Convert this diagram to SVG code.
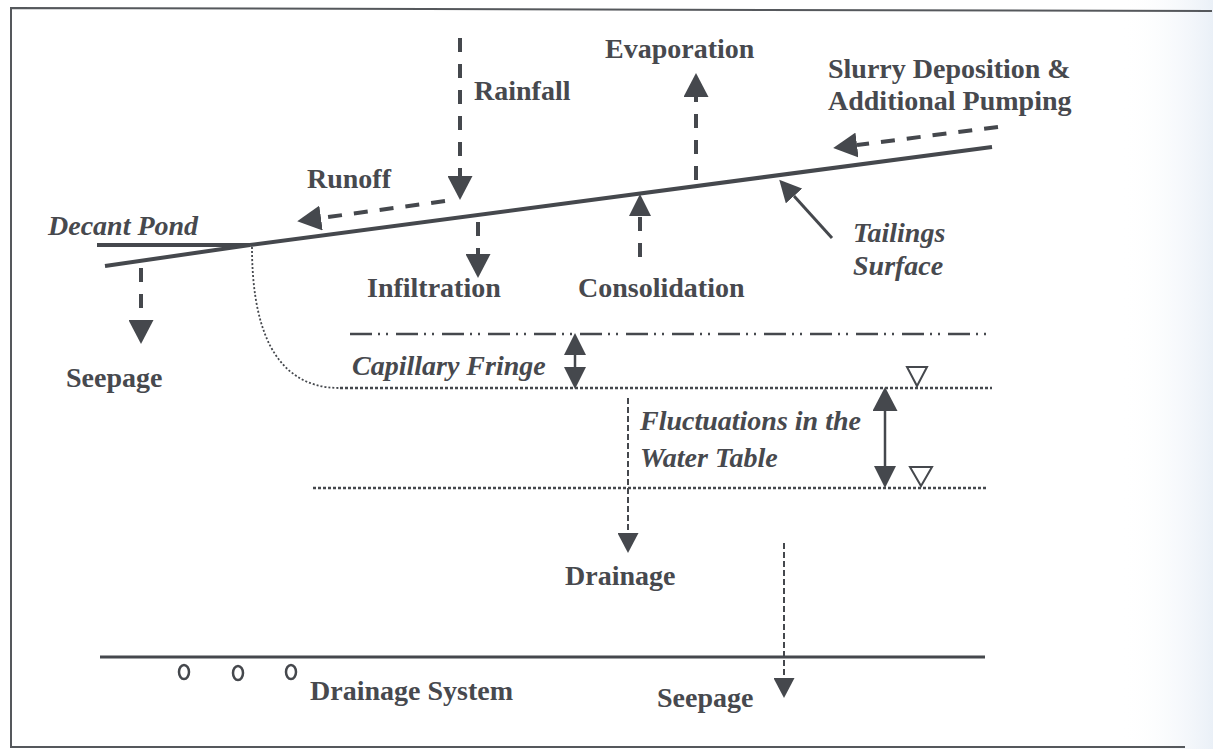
<svg xmlns="http://www.w3.org/2000/svg" width="1213" height="749" viewBox="0 0 1213 749">
  <style>
    .lbl { font-family: "Liberation Serif", "Times New Roman", serif; font-weight: bold; font-size: 28px; fill: #47494e; }
    .it { font-style: italic; }
    .solid { stroke: #45484d; fill: none; }
    .dash { stroke: #45484d; stroke-width: 4; stroke-dasharray: 14 12; fill: none; }
    .thin { stroke: #45484d; stroke-width: 2; stroke-dasharray: 6 3; fill: none; }
    .dot { stroke: #45484d; stroke-width: 2.5; stroke-dasharray: 3 2; fill: none; }
    .dd { stroke: #45484d; stroke-width: 2.5; stroke-dasharray: 22 6 2 6 2 8; fill: none; }
    .tri { stroke: #45484d; stroke-width: 2; fill: none; }
  </style>
  <defs>
    <linearGradient id="edge" x1="0" y1="0" x2="1" y2="0">
      <stop offset="0" stop-color="#ffffff" stop-opacity="0"/>
      <stop offset="1" stop-color="#eaf0f7"/>
    </linearGradient>
    <marker id="big" viewBox="0 0 24 25" markerWidth="24" markerHeight="25" markerUnits="userSpaceOnUse" refX="0" refY="12.5" orient="auto-start-reverse">
      <path d="M0,0 L24,12.5 L0,25 z" fill="#45484d"/>
    </marker>
    <marker id="mid" viewBox="0 0 22 22" markerWidth="22" markerHeight="22" markerUnits="userSpaceOnUse" refX="0" refY="11" orient="auto-start-reverse">
      <path d="M0,0 L22,11 L0,22 z" fill="#45484d"/>
    </marker>
    <marker id="sm" viewBox="0 0 20 21" markerWidth="20" markerHeight="21" markerUnits="userSpaceOnUse" refX="0" refY="10.5" orient="auto-start-reverse">
      <path d="M0,0 L20,10.5 L0,21 z" fill="#45484d"/>
    </marker>
  </defs>

  <rect x="0" y="0" width="1213" height="749" fill="#ffffff"/>
  <rect x="1120" y="0" width="93" height="749" fill="url(#edge)"/>

  <g id="frame">
    <path d="M1212,11 L11,8 L11,747 L1185,747" fill="none" stroke="#55585c" stroke-width="2"/>
  </g>

  <g id="surfaces">
    <line class="solid" stroke-width="4" x1="250" y1="245" x2="992" y2="147"/>
    <line class="solid" stroke-width="4" x1="97" y1="245" x2="250" y2="245"/>
    <line class="solid" stroke-width="4" x1="105" y1="266" x2="250" y2="245"/>
    <path d="M252,247 C252,320 270,388 340,388" fill="none" stroke="#45484d" stroke-width="1.8" stroke-dasharray="2 2"/>
    <line class="dd" x1="350" y1="334" x2="992" y2="334"/>
    <line class="dot" x1="340" y1="388" x2="992" y2="388"/>
    <line class="dot" x1="313" y1="488" x2="987" y2="488"/>
    <polygon class="tri" points="907,367 927,367 917,386"/>
    <polygon class="tri" points="910,467 932,467 921,486"/>
    <line class="solid" stroke-width="3" x1="100" y1="657" x2="985" y2="657"/>
    <ellipse class="solid" stroke-width="2.5" cx="184" cy="672" rx="5" ry="7"/>
    <ellipse class="solid" stroke-width="2.5" cx="238" cy="673" rx="5" ry="7"/>
    <ellipse class="solid" stroke-width="2.5" cx="291" cy="672" rx="5" ry="7"/>
  </g>

  <g id="connectors">
    <line class="dash" x1="460" y1="38" x2="460" y2="176" marker-end="url(#big)"/>
    <line class="dash" x1="696" y1="180" x2="696" y2="97" marker-end="url(#big)"/>
    <line class="dash" x1="640" y1="257" x2="640" y2="216" marker-end="url(#mid)"/>
    <line class="dash" x1="478" y1="222" x2="478" y2="254" marker-end="url(#big)"/>
    <line class="dash" x1="141" y1="268" x2="141" y2="320" marker-end="url(#big)"/>
    <line class="dash" x1="445" y1="201" x2="321" y2="218" marker-end="url(#big)"/>
    <line class="dash" x1="998" y1="127" x2="857" y2="145" marker-end="url(#big)"/>
    <line class="solid" stroke-width="3" x1="832" y1="238" x2="794" y2="196" marker-end="url(#mid)"/>
    <line class="solid" stroke-width="2.5" x1="575" y1="355" x2="575" y2="367" marker-start="url(#mid)" marker-end="url(#mid)"/>
    <line class="solid" stroke-width="2.5" x1="885" y1="411" x2="885" y2="466" marker-start="url(#big)" marker-end="url(#mid)"/>
    <line class="thin" x1="628" y1="398" x2="628" y2="533" marker-end="url(#sm)"/>
    <line class="thin" x1="784" y1="543" x2="784" y2="678" marker-end="url(#sm)"/>
  </g>

  <g id="evaporation"><text class="lbl" x="605" y="58">Evaporation</text></g>
  <g id="rainfall"><text class="lbl" x="474" y="100">Rainfall</text></g>
  <g id="slurry"><text class="lbl" x="828" y="78">Slurry Deposition &amp;</text><text class="lbl" x="828" y="110">Additional Pumping</text></g>
  <g id="runoff"><text class="lbl" x="307" y="188">Runoff</text></g>
  <g id="decant-pond"><text class="lbl it" x="48" y="235">Decant Pond</text></g>
  <g id="infiltration"><text class="lbl" x="367" y="297">Infiltration</text></g>
  <g id="consolidation"><text class="lbl" x="578" y="297">Consolidation</text></g>
  <g id="tailings-surface"><text class="lbl it" x="853" y="242">Tailings</text><text class="lbl it" x="853" y="275">Surface</text></g>
  <g id="seepage-left"><text class="lbl" x="66" y="387">Seepage</text></g>
  <g id="capillary-fringe"><text class="lbl it" x="352" y="375">Capillary Fringe</text></g>
  <g id="fluctuations"><text class="lbl it" x="640" y="430">Fluctuations in the</text><text class="lbl it" x="640" y="467">Water Table</text></g>
  <g id="drainage"><text class="lbl" x="565" y="585">Drainage</text></g>
  <g id="drainage-system"><text class="lbl" x="310" y="700">Drainage System</text></g>
  <g id="seepage-bottom"><text class="lbl" x="657" y="707">Seepage</text></g>
</svg>
